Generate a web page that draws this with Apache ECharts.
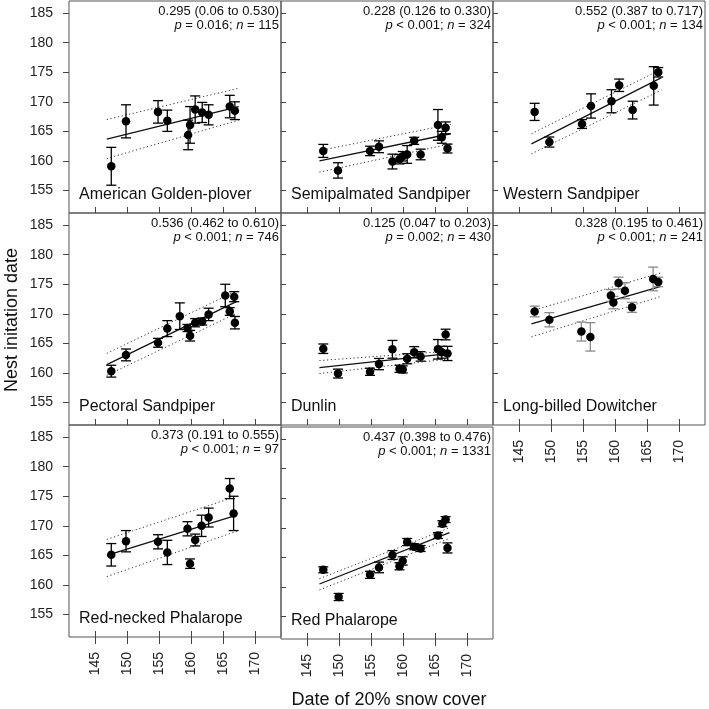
<!DOCTYPE html>
<html>
<head>
<meta charset="utf-8">
<script src="https://cdn.jsdelivr.net/npm/echarts@6/dist/echarts.min.js"></script>
<style>html,body{margin:0;padding:0;background:#fff}#c{width:709px;height:709px}</style>
</head>
<body>
<div id="c"></div>
<script>
// ---------- tick labels ----------
const xTicks = [145, 150, 155, 160, 165, 170];
const yTicks = [155, 160, 165, 170, 175, 180, 185];

// ---------- panel texts ----------
const speciesNames = ['American Golden-plover', 'Semipalmated Sandpiper', 'Western Sandpiper',
  'Pectoral Sandpiper', 'Dunlin', 'Long-billed Dowitcher', 'Red-necked Phalarope', 'Red Phalarope'];
const slopeText = ['0.295 (0.06 to 0.530)', '0.228 (0.126 to 0.330)', '0.552 (0.387 to 0.717)',
  '0.536 (0.462 to 0.610)', '0.125 (0.047 to 0.203)', '0.328 (0.195 to 0.461)',
  '0.373 (0.191 to 0.555)', '0.437 (0.398 to 0.476)'];
const pText = ['= 0.016', '< 0.001', '< 0.001', '< 0.001', '= 0.002', '< 0.001', '< 0.001', '< 0.001'];
const nText = ['115', '324', '134', '746', '430', '241', '97', '1331'];

// ---------- data: American Golden-plover ----------
const agpX = [147.5, 149.8, 154.8, 156.25, 159.5, 159.8, 160.6, 161.7, 162.7, 166.0, 166.8];
const agpY = [159.1, 166.7, 168.3, 166.8, 164.4, 166.1, 168.7, 168.2, 167.8, 169.2, 168.5];
const agpErr = [3.2, 2.8, 1.9, 1.8, 2.5, 3.1, 2.3, 1.7, 1.7, 1.9, 1.5];
const agpFitX = [146.8, 167.4], agpFitY = [163.7, 169.2];
const agpUpY = [167.0, 172.3], agpLoY = [160.4, 166.9];

// ---------- Semipalmated Sandpiper ----------
const sesaX = [147.5, 149.8, 154.8, 156.2, 158.3, 159.4, 159.9, 160.6, 161.7, 162.7, 165.4, 166.0, 166.6, 166.9];
const sesaY = [161.7, 158.4, 161.7, 162.4, 159.9, 160.3, 160.8, 161.1, 163.4, 161.1, 166.1, 164.0, 165.6, 162.1];
const sesaErr = [1.1, 1.3, 0.8, 1.0, 1.25, 0.8, 0.8, 1.5, 0.6, 0.9, 2.6, 1.0, 1.0, 0.75];
const sesaFitX = [146.9, 167.4], sesaFitY = [160.0, 164.6];
const sesaUpY = [161.75, 166.2], sesaLoY = [158.1, 162.9];

// ---------- Western Sandpiper ----------
const wesaX = [147.4, 149.7, 154.8, 156.2, 159.4, 160.6, 162.7, 166.0, 166.7];
const wesaY = [168.3, 163.2, 166.25, 169.3, 170.1, 172.8, 168.6, 172.7, 175.0];
const wesaErr = [1.45, 0.85, 0.75, 2.05, 1.95, 1.05, 1.5, 3.25, 0.8];
const wesaFitX = [146.9, 167.2], wesaFitY = [162.9, 174.1];
const wesaUpY = [164.6, 175.5], wesaLoY = [161.2, 172.0];

// ---------- Pectoral Sandpiper ----------
const pesaX = [147.5, 149.8, 154.8, 156.25, 158.2, 159.4, 159.8, 160.6, 161.7, 162.7, 165.3, 166.0, 166.7, 166.8];
const pesaY = [160.3, 163.05, 165.1, 167.5, 169.6, 167.6, 166.3, 168.5, 168.7, 169.9, 173.1, 170.4, 172.9, 168.5];
const pesaErr = [1.0, 1.0, 0.75, 1.35, 2.25, 0.6, 0.9, 0.7, 0.6, 1.05, 1.9, 0.65, 0.85, 1.05];
const pesaFitX = [146.8, 167.1], pesaFitY = [161.4, 172.1];
const pesaUpY = [163.3, 173.9], pesaLoY = [159.6, 170.1];

// ---------- Dunlin ----------
const dunlX = [147.5, 149.8, 154.8, 156.2, 158.3, 159.4, 159.9, 160.6, 161.7, 162.7, 165.4, 166.0, 166.6, 166.9];
const dunlY = [164.1, 159.9, 160.2, 161.5, 164.0, 160.7, 160.6, 162.4, 163.5, 162.8, 164.0, 163.5, 166.5, 163.3];
const dunlErr = [0.8, 0.75, 0.6, 0.95, 1.5, 0.6, 0.6, 0.85, 0.95, 0.8, 1.65, 1.0, 0.9, 1.2];
const dunlFitX = [146.9, 167.4], dunlFitY = [160.9, 163.3];
const dunlUpY = [162.1, 163.7], dunlLoY = [159.9, 162.4];

// ---------- Long-billed Dowitcher ----------
const lbdoX = [147.4, 149.7, 154.7, 156.1, 159.3, 159.7, 160.5, 161.5, 162.6, 165.9, 166.7];
const lbdoY = [170.4, 169.0, 167.0, 166.1, 173.1, 171.9, 175.2, 173.9, 171.1, 175.9, 175.4];
const lbdoErr = [0.9, 1.2, 1.6, 2.4, 1.0, 1.05, 1.0, 1.35, 0.85, 2.0, 0.8];
const lbdoFitX = [146.9, 167.0], lbdoFitY = [168.3, 174.6];
const lbdoUpY = [170.5, 176.9], lbdoLoY = [166.1, 172.9];

// ---------- Red-necked Phalarope ----------
const rnphX = [147.5, 149.8, 154.8, 156.25, 159.4, 159.8, 160.6, 161.6, 162.7, 166.0, 166.6];
const rnphY = [165.1, 167.4, 167.3, 165.5, 169.5, 163.6, 167.6, 170.0, 171.4, 176.3, 172.1];
const rnphErr = [1.9, 1.8, 1.2, 2.05, 1.2, 0.8, 1.0, 1.8, 1.6, 1.7, 2.9];
const rnphFitX = [146.8, 167.1], rnphFitY = [165.0, 171.8];
const rnphUpY = [167.7, 175.0], rnphLoY = [161.4, 169.1];

// ---------- Red Phalarope ----------
const rephX = [147.5, 149.9, 154.8, 156.2, 158.3, 159.4, 159.9, 160.6, 161.7, 162.7, 165.4, 166.1, 166.6, 166.9];
const rephY = [162.9, 158.3, 162.05, 163.3, 165.4, 163.5, 164.4, 167.6, 166.8, 166.5, 168.7, 170.7, 171.4, 166.6];
const rephErr = [0.5, 0.6, 0.6, 0.9, 0.75, 0.6, 0.7, 0.6, 0.5, 0.5, 0.5, 0.5, 0.5, 0.85];
const rephFitX = [146.9, 167.2], rephFitY = [160.5, 169.2];
const rephUpY = [161.4, 170.0], rephLoY = [159.5, 168.2];

const panels = [
  {x: agpX, y: agpY, e: agpErr, fx: agpFitX, fy: agpFitY, up: agpUpY, lo: agpLoY},
  {x: sesaX, y: sesaY, e: sesaErr, fx: sesaFitX, fy: sesaFitY, up: sesaUpY, lo: sesaLoY},
  {x: wesaX, y: wesaY, e: wesaErr, fx: wesaFitX, fy: wesaFitY, up: wesaUpY, lo: wesaLoY},
  {x: pesaX, y: pesaY, e: pesaErr, fx: pesaFitX, fy: pesaFitY, up: pesaUpY, lo: pesaLoY},
  {x: dunlX, y: dunlY, e: dunlErr, fx: dunlFitX, fy: dunlFitY, up: dunlUpY, lo: dunlLoY},
  {x: lbdoX, y: lbdoY, e: lbdoErr, fx: lbdoFitX, fy: lbdoFitY, up: lbdoUpY, lo: lbdoLoY},
  {x: rnphX, y: rnphY, e: rnphErr, fx: rnphFitX, fy: rnphFitY, up: rnphUpY, lo: rnphLoY},
  {x: rephX, y: rephY, e: rephErr, fx: rephFitX, fy: rephFitY, up: rephUpY, lo: rephLoY}
];

// ---------- layout ----------
const FONT = '"Liberation Sans", Arial, Helvetica, sans-serif';
const colLeft = [69, 281, 493];
const rowTop = [1, 213, 425];
const panelShiftY = [0, 0, 0, 0, 0, 0, 0, 2];
const PW = 212, PH = 212;
const X_MIN = 140.9, X_MAX = 174.0, Y_MIN = 151.2, Y_MAX = 187.05;
const labeledX = [5, 6, 7]; // panels with x tick labels
const errColors = ['#000', '#000', '#000', '#000', '#000', '#8a8a8a', '#000', '#000'];

const grids = [], xAxes = [], yAxes = [], series = [], graphics = [];

function errRender(color) {
  return function (params, api) {
    const x = api.value(0), y = api.value(1), e = api.value(2);
    const t = api.coord([x, y + e]);
    const b = api.coord([x, y - e]);
    const cw = 5;
    const st = {stroke: color, lineWidth: 1.3};
    return {type: 'group', children: [
      {type: 'line', shape: {x1: t[0], y1: t[1], x2: b[0], y2: b[1]}, style: st},
      {type: 'line', shape: {x1: t[0] - cw, y1: t[1], x2: t[0] + cw, y2: t[1]}, style: st},
      {type: 'line', shape: {x1: b[0] - cw, y1: b[1], x2: b[0] + cw, y2: b[1]}, style: st}
    ]};
  };
}

panels.forEach((p, i) => {
  const col = i % 3, row = Math.floor(i / 3);
  const left = colLeft[col], top = rowTop[row] + panelShiftY[i];
  grids.push({left: left, top: top, width: PW, height: PH, show: true,
    borderColor: '#555', borderWidth: 1, backgroundColor: 'transparent', containLabel: false});

  const xi = xAxes.length;
  xAxes.push({type: 'value', gridIndex: i, min: X_MIN, max: X_MAX, position: 'bottom',
    axisLine: {show: false}, splitLine: {show: false},
    axisTick: {show: true, inside: true, length: 6, customValues: xTicks, lineStyle: {color: '#444', width: 1}},
    axisLabel: {show: false}});
  if (labeledX.indexOf(i) >= 0) {
    xAxes.push({type: 'value', gridIndex: i, min: X_MIN, max: X_MAX, position: 'bottom',
      axisLine: {show: false}, splitLine: {show: false},
      axisTick: {show: true, inside: false, length: 7, customValues: xTicks, lineStyle: {color: '#444', width: 1}},
      axisLabel: {show: true, rotate: 90, margin: 15, customValues: xTicks, fontSize: 14,
        fontFamily: FONT, color: '#222'}});
  }
  const yi = yAxes.length;
  const firstCol = col === 0;
  yAxes.push({type: 'value', gridIndex: i, min: Y_MIN, max: Y_MAX,
    axisLine: {show: false}, splitLine: {show: false},
    axisTick: {show: true, inside: !firstCol, length: firstCol ? 6 : 5, customValues: yTicks,
      lineStyle: {color: '#444', width: 1}},
    axisLabel: {show: firstCol, margin: 16, customValues: yTicks, fontSize: 14, fontFamily: FONT, color: '#222'}});

  // CI bands
  series.push({type: 'line', xAxisIndex: xi, yAxisIndex: yi, showSymbol: false, silent: true,
    data: [[p.fx[0], p.up[0]], [p.fx[1], p.up[1]]],
    lineStyle: {color: '#333', width: 1, type: [1.2, 2.6]}, z: 2, animation: false});
  series.push({type: 'line', xAxisIndex: xi, yAxisIndex: yi, showSymbol: false, silent: true,
    data: [[p.fx[0], p.lo[0]], [p.fx[1], p.lo[1]]],
    lineStyle: {color: '#333', width: 1, type: [1.2, 2.6]}, z: 2, animation: false});
  // fit line
  series.push({type: 'line', xAxisIndex: xi, yAxisIndex: yi, showSymbol: false, silent: true,
    data: [[p.fx[0], p.fy[0]], [p.fx[1], p.fy[1]]],
    lineStyle: {color: '#111', width: 1.3}, z: 3, animation: false});
  // error bars
  series.push({type: 'custom', xAxisIndex: xi, yAxisIndex: yi, renderItem: errRender(errColors[i]),
    data: p.x.map((x, k) => [x, p.y[k], p.e[k]]), encode: {x: 0, y: 1}, z: 4, animation: false, silent: true});
  // points
  series.push({type: 'scatter', xAxisIndex: xi, yAxisIndex: yi, symbol: 'circle', symbolSize: 8.5,
    data: p.x.map((x, k) => [x, p.y[k]]), itemStyle: {color: '#000', opacity: 1}, z: 5, animation: false, silent: true});

  // texts
  graphics.push({type: 'text', x: left + PW - 2, y: top + 3, z: 10, silent: true,
    style: {text: slopeText[i] + '\n{i|p} ' + pText[i] + '; {i|n} = ' + nText[i],
      align: 'right', verticalAlign: 'top', font: '13px ' + FONT, fill: '#111', lineHeight: 14,
      rich: {i: {fontStyle: 'italic', fontSize: 13, fontFamily: FONT, fill: '#111', lineHeight: 14}}}});
  graphics.push({type: 'text', x: left + 10, y: top + PH - 10, z: 10, silent: true,
    style: {text: speciesNames[i], align: 'left', verticalAlign: 'bottom', font: '16px ' + FONT, fill: '#111'}});
});

graphics.push({type: 'text', x: 12, y: 320, rotation: Math.PI / 2, z: 10, silent: true,
  style: {text: 'Nest initation date', align: 'center', verticalAlign: 'middle', font: '18px ' + FONT, fill: '#111'}});
graphics.push({type: 'text', x: 389, y: 700, z: 10, silent: true,
  style: {text: 'Date of 20% snow cover', align: 'center', verticalAlign: 'middle', font: '18px ' + FONT, fill: '#111'}});

const chart = echarts.init(document.getElementById('c'), null, {renderer: 'canvas'});
chart.setOption({
  animation: false,
  backgroundColor: '#fff',
  grid: grids, xAxis: xAxes, yAxis: yAxes, series: series, graphic: graphics
});
</script>
</body>
</html>
